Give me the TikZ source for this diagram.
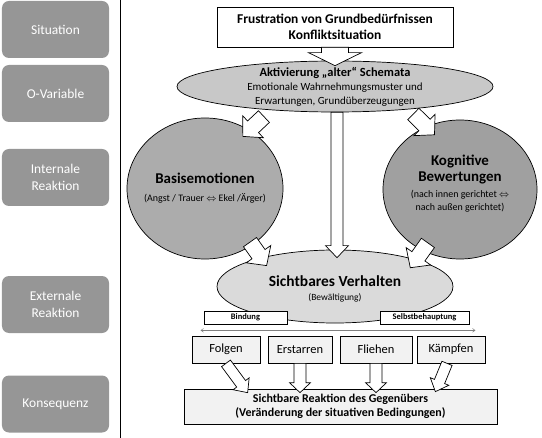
\documentclass[tikz,border=0pt]{standalone}
\usepackage{fontspec}
\setmainfont{Carlito}
\usetikzlibrary{shapes.geometric,calc,arrows.meta}
\definecolor{sidegray}{RGB}{150,150,150}
\definecolor{aktgray}{RGB}{200,200,200}
\definecolor{basisgray}{RGB}{172,172,172}
\definecolor{kogngray}{RGB}{160,160,160}
\definecolor{verhgray}{RGB}{218,218,218}
\definecolor{boxgray}{RGB}{242,242,242}
\newcommand\fatarrow[5]{%
  \coordinate (fabase) at ($(#2)!#5!(#1)$);
  \draw[fill=white] ($(#1)!#3!90:(#2)$) -- ($(fabase)!#3!90:(#2)$) -- ($(fabase)!#4!90:(#2)$) -- (#2) -- ($(fabase)!#4!-90:(#2)$) -- ($(fabase)!#3!-90:(#2)$) -- ($(#1)!#3!-90:(#2)$) -- cycle;}
\newcommand\bigbold{\fontsize{15}{16}\selectfont\bfseries}
\begin{document}
\begin{tikzpicture}[x=1bp, y=-1bp, line width=0.7bp,
  side/.style={fill=sidegray, rounded corners=7bp, minimum width=107bp, minimum height=57bp, inner sep=0pt, text=white, align=center, font=\fontsize{13.5}{17}\selectfont},
  blob/.style={ellipse, draw, inner sep=0pt},
  plainbox/.style={draw, fill=boxgray, inner sep=0pt, align=center},
  txt/.style={inner sep=0pt, align=center}]
\useasboundingbox (0,0) rectangle (542,438);
\node[side] (sit) at (55.5,29.5) {Situation};
\node[side] (ovar) at (55.5,93.5) {O-Variable};
\node[side] (intern) at (55.5,177.5) {Internale\\Reaktion};
\node[side] (extern) at (55.5,304.5) {Externale\\Reaktion};
\node[side] (kons) at (55.5,404) {Konsequenz};
\draw (120.5,0) -- (120.5,438);

\node[draw, minimum width=236bp, minimum height=40bp, inner sep=0pt, align=center, font=\fontsize{13.5}{16}\selectfont\bfseries] (frust) at (335,27) {Frustration von Grundbedürfnissen\\Konfliktsituation};
\node[blob, fill=aktgray, minimum width=316bp, minimum height=51bp] (akt) at (335,86.5) {};
\node[txt, font=\fontsize{11}{14}\selectfont] (akttext) at (akt) {{\fontsize{12.5}{14}\selectfont\bfseries Aktivierung „alter“ Schemata}\\Emotionale Wahrnehmungsmuster und\\Erwartungen, Grundüberzeugungen};
\node[blob, fill=basisgray, minimum width=156bp, minimum height=141bp] (basis) at (205,188.5) {};
\node[txt, font=\fontsize{10}{18}\selectfont] (basistext) at (basis) {{\bigbold Basisemotionen}\\(Angst / Trauer $\Leftrightarrow$ Ekel /Ärger)};
\node[blob, fill=kogngray, minimum width=154bp, minimum height=139bp] (kogn) at (460,189.5) {};
\node[txt, font=\fontsize{10}{16}\selectfont] (kogntext) at ($(kogn)+(0,-6)$) {{\bigbold Kognitive}\\{\bigbold Bewertungen}\\(nach innen gerichtet $\Leftrightarrow$\\[-3bp]nach außen gerichtet)};
\node[blob, fill=verhgray, minimum width=236bp, minimum height=73bp] (verh) at (335,286.5) {};
\node[txt, font=\fontsize{9.5}{14}\selectfont] (verhtext) at ($(verh)+(0,2)$) {{\fontsize{15.5}{14}\selectfont\bfseries Sichtbares Verhalten}\\(Bewältigung)};

\node[draw, fill=white, minimum width=83bp, minimum height=13bp, inner sep=0pt, font=\fontsize{8.5}{10}\selectfont\bfseries] (bind) at (245.5,317.5) {Bindung};
\node[draw, fill=white, minimum width=89bp, minimum height=13bp, inner sep=0pt, font=\fontsize{8.5}{10}\selectfont\bfseries] (selbst) at (424.5,317.5) {Selbstbehauptung};
\coordinate (bl) at ($(bind.south west)+(-3,6)$);
\coordinate (br) at ($(selbst.south east)+(6,6)$);
\draw[gray, line width=0.5bp, {To[length=3bp,width=4bp]}-{To[length=3bp,width=4bp]}] (bl) -- (br);

\node[plainbox, minimum width=68bp, minimum height=27bp, font=\fontsize{12.5}{14}\selectfont] (folgen) at (226,349.5) {Folgen};
\node[plainbox, minimum width=64bp, minimum height=27bp, font=\fontsize{12.5}{14}\selectfont] (erstarren) at (300,349.5) {Erstarren};
\node[plainbox, minimum width=72bp, minimum height=27bp, font=\fontsize{12.5}{14}\selectfont] (fliehen) at (376,349.5) {Fliehen};
\node[plainbox, minimum width=68bp, minimum height=27bp, font=\fontsize{12.5}{14}\selectfont] (kaempfen) at (451,349.5) {Kämpfen};
\node[plainbox, minimum width=313bp, minimum height=35bp, font=\fontsize{12}{14}\selectfont\bfseries] (reakt) at (340.5,406.5) {Sichtbare Reaktion des Gegenübers\\(Veränderung der situativen Bedingungen)};

\coordinate (t1) at ($(akt.north)+(0,5)$);
\fatarrow{frust.south}{t1}{13.5bp}{26.5bp}{13bp}
\coordinate (c1) at ($(akt.south)+(2,0)$);
\coordinate (c2) at ($(verh.north)+(2,8)$);
\fatarrow{c1}{c2}{6bp}{11.5bp}{12bp}
\coordinate (d1) at ($(akt.198)+(0,7)$);
\coordinate (d2) at ($(basis.center)!0.88!(basis.54)$);
\fatarrow{d1}{d2}{8bp}{15bp}{14bp}
\coordinate (d3) at ($(akt.-16)+(0,5)$);
\coordinate (d4) at ($(kogn.center)!0.85!(kogn.115)$);
\fatarrow{d3}{d4}{8bp}{15bp}{14bp}
\coordinate (d5) at ($(basis.center)!0.95!(basis.-50)$);
\coordinate (d6) at ($(verh.center)!0.81!(verh.163.5)$);
\fatarrow{d5}{d6}{8bp}{15bp}{14bp}
\coordinate (d7) at ($(kogn.center)!0.87!(kogn.239)$);
\coordinate (d8) at ($(verh.center)!0.815!(verh.14)$);
\fatarrow{d7}{d8}{8bp}{15bp}{14bp}

\coordinate (l1) at ($(reakt.north west)+(64,4)$);
\fatarrow{folgen.south}{l1}{5.5bp}{10bp}{11bp}
\coordinate (l2) at ($(erstarren.south|-reakt.north)+(0,4)$);
\fatarrow{erstarren.south}{l2}{6bp}{10.5bp}{10bp}
\coordinate (l3) at ($(fliehen.south|-reakt.north)+(0,4)$);
\fatarrow{fliehen.south}{l3}{6bp}{10.5bp}{10bp}
\coordinate (l4) at ($(kaempfen.south)+(-4,0)$);
\coordinate (l5) at ($(reakt.north east)+(-62,3)$);
\fatarrow{l4}{l5}{5.5bp}{10bp}{11bp}
\end{tikzpicture}
\end{document}
